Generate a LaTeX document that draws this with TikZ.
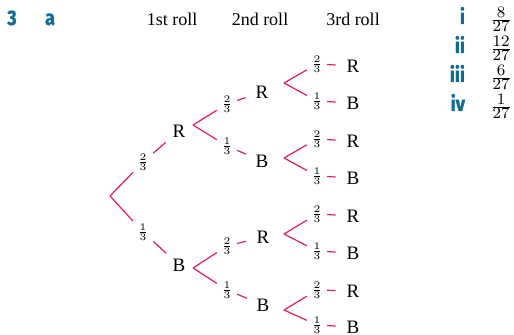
\documentclass[tikz,border=0pt]{standalone}
\usepackage{fontspec}
\setmainfont{Liberation Serif}
\newfontfamily\qfont[FakeStretch=0.85, BoldFeatures={FakeBold=1.2}]{Fira Sans}
\definecolor{treeRed}{RGB}{232,28,84}
\definecolor{qBlue}{RGB}{16,108,148}
\newcommand{\ansfrac}[2]{$\frac{\textstyle #1}{\textstyle #2}$}
\tikzset{
  outcome/.style={circle, minimum size=17pt, inner sep=0pt, font=\fontsize{9.5}{11}\selectfont},
  prob/.style={inner sep=2pt, font=\fontsize{7}{8}\selectfont},
  branch/.style={draw=treeRed, line width=0.6pt},
  head/.style={anchor=base, font=\fontsize{9}{11}\selectfont},
  qnum/.style={anchor=base, text=qBlue, font=\qfont\bfseries\fontsize{10.5}{12}\selectfont},
  answer/.style={anchor=base, inner sep=1pt, font=\fontsize{8.5}{10}\selectfont}
}
\begin{document}
\begin{tikzpicture}[x=0.5pt,y=-0.5pt]
    \useasboundingbox (0,0) rectangle (514,335);
    \node[qnum] (q3) at (12,25) {3};
    \node[qnum] (qa) at (50,25) {a};
    \node[head] (h1) at (172,26) {1st roll};
    \node[head] (h2) at (260,26) {2nd roll};
    \node[head] (h3) at (353,26) {3rd roll};
    \coordinate (root) at (110,196);
    \node[prob] (p1) at (143,162) {$\frac{2}{3}$};
    \node[prob] (p2) at (143,232) {$\frac{1}{3}$};
    \node[outcome] (r) at (179,131) {R};
    \node[outcome] (b) at (179,265) {B};
    \draw[branch] (root) -- (p1) (p1) -- (r);
    \draw[branch] (root) -- (p2) (p2) -- (b);
    \coordinate (vr) at (193,125);
    \coordinate (vb) at (193,268);
    \node[prob] (pr1) at (227,104) {$\frac{2}{3}$};
    \node[prob] (pr2) at (227,146) {$\frac{1}{3}$};
    \node[prob] (pb1) at (227,246) {$\frac{2}{3}$};
    \node[prob] (pb2) at (227,290) {$\frac{1}{3}$};
    \node[outcome] (rr) at (262,92) {R};
    \node[outcome] (rb) at (262,161) {B};
    \node[outcome] (br) at (263,237) {R};
    \node[outcome] (bb) at (263,305) {B};
    \draw[branch] (vr) -- (pr1) (pr1) -- (rr);
    \draw[branch] (vr) -- (pr2) (pr2) -- (rb);
    \draw[branch] (vb) -- (pb1) (pb1) -- (br);
    \draw[branch] (vb) -- (pb2) (pb2) -- (bb);
    \coordinate (vrr) at (284,83);
    \coordinate (vrb) at (284,158);
    \coordinate (vbr) at (284,234);
    \coordinate (vbb) at (284,310);
    \node[prob] (prr1) at (317,64) {$\frac{2}{3}$};
    \node[prob] (prr2) at (317,101) {$\frac{1}{3}$};
    \node[prob] (prb1) at (317,139) {$\frac{2}{3}$};
    \node[prob] (prb2) at (317,176) {$\frac{1}{3}$};
    \node[prob] (pbr1) at (317,214) {$\frac{2}{3}$};
    \node[prob] (pbr2) at (317,251) {$\frac{1}{3}$};
    \node[prob] (pbb1) at (317,290) {$\frac{2}{3}$};
    \node[prob] (pbb2) at (317,325) {$\frac{1}{3}$};
    \node[outcome] (rrr) at (353,66) {R};
    \node[outcome] (rrb) at (353,103) {B};
    \node[outcome] (rbr) at (353,141) {R};
    \node[outcome] (rbb) at (353,178) {B};
    \node[outcome] (brr) at (353,216) {R};
    \node[outcome] (brb) at (353,253) {B};
    \node[outcome] (bbr) at (353,291) {R};
    \node[outcome] (bbb) at (353,327) {B};
    \draw[branch] (vrr) -- (prr1) (prr1) -- (rrr);
    \draw[branch] (vrr) -- (prr2) (prr2) -- (rrb);
    \draw[branch] (vrb) -- (prb1) (prb1) -- (rbr);
    \draw[branch] (vrb) -- (prb2) (prb2) -- (rbb);
    \draw[branch] (vbr) -- (pbr1) (pbr1) -- (brr);
    \draw[branch] (vbr) -- (pbr2) (pbr2) -- (brb);
    \draw[branch] (vbb) -- (pbb1) (pbb1) -- (bbr);
    \draw[branch] (vbb) -- (pbb2) (pbb2) -- (bbb);
    \node[qnum, anchor=base east] (ai) at (472,24) {i};
    \node[qnum, anchor=base east] (aii) at (472,53) {ii};
    \node[qnum, anchor=base east] (aiii) at (472,82) {iii};
    \node[qnum, anchor=base east] (aiv) at (472,111) {iv};
    \node[answer] (fi) at (501,24) {\ansfrac{8}{27}};
    \node[answer] (fii) at (501,53) {\ansfrac{12}{27}};
    \node[answer] (fiii) at (501,82) {\ansfrac{6}{27}};
    \node[answer] (fiv) at (501,111) {\ansfrac{1}{27}};
\end{tikzpicture}
\end{document}
